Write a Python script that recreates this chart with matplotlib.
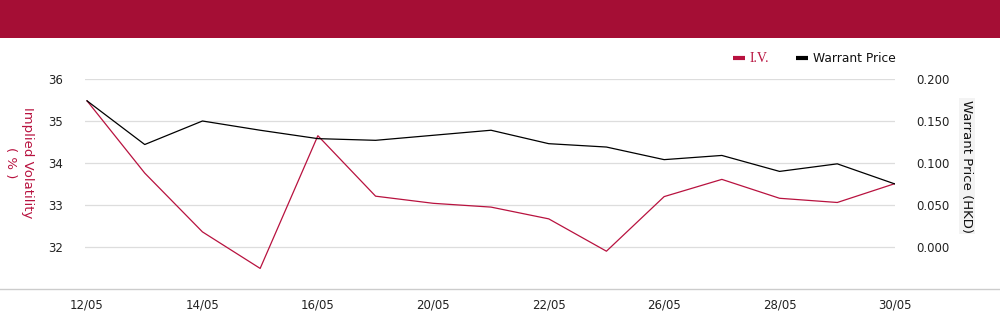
import matplotlib
matplotlib.use("Agg")
import matplotlib.pyplot as plt
from matplotlib.patches import Rectangle
from matplotlib.lines import Line2D

dates = ["12/05", "13/05", "14/05", "15/05", "16/05", "19/05", "20/05", "21/05",
         "22/05", "23/05", "26/05", "27/05", "28/05", "29/05", "30/05"]
iv = [35.48, 33.76, 32.36, 31.49, 34.65, 33.21, 33.04, 32.95, 32.67, 31.90,
      33.20, 33.61, 33.16, 33.06, 33.51]
price = [0.174, 0.122, 0.150, 0.139, 0.129, 0.127, 0.133, 0.139, 0.123, 0.119,
         0.104, 0.109, 0.090, 0.099, 0.075]
left_ticks = [32, 33, 34, 35, 36]
right_ticks = [0.0, 0.05, 0.10, 0.15, 0.20]

RED = "#A50E35"
LINE_RED = "#B8123F"
W, H = 1000, 324

fig = plt.figure(figsize=(10, 3.24), dpi=100)
fig.patches.append(Rectangle((0, 1 - 38 / H), 1, 38 / H, transform=fig.transFigure,
                             facecolor=RED, edgecolor="none", zorder=0))
fig.add_artist(Line2D([0, 1], [1 - 289 / H, 1 - 289 / H], transform=fig.transFigure,
                      color="#cccccc", lw=1))

ax = fig.add_axes([85 / W, 1 - 289 / H, (895 - 85) / W, (289 - 79) / H])
x = list(range(len(dates)))
ax.plot(x, iv, color=LINE_RED, lw=0.9, zorder=3)
ax.set_ylim(31, 36)
ax.set_yticks(left_ticks)
ax.set_yticklabels([str(t) for t in left_ticks])
ax.set_xlim(-0.035, len(dates) - 1)
ax.set_xticks(x[::2])
ax.set_xticklabels(dates[::2])
ax.grid(axis="y", color="#dddddd", lw=0.9)
ax.set_axisbelow(True)
for s in ax.spines.values():
    s.set_visible(False)
ax.tick_params(length=0, labelsize=8.5, colors="#222222")
ax.tick_params(axis="x", pad=7)
ax.tick_params(axis="y", pad=16)
ax.patch.set_alpha(0)

ax2 = ax.twinx()
ax2.plot(x, price, color="black", lw=0.9, zorder=3)
ax2.set_ylim(-0.05, 0.20)
ax2.set_yticks(right_ticks)
ax2.set_yticklabels([f"{t:.3f}" for t in right_ticks])
for s in ax2.spines.values():
    s.set_visible(False)
ax2.tick_params(length=0, labelsize=8.5, colors="#222222", pad=15)

fig.text(19 / W, 1 - 163 / H, "Implied Volatility\n( % )", rotation=270, color=LINE_RED,
         fontsize=9.5, ha="center", va="center", multialignment="center", linespacing=1.35)
fig.text(967 / W, 1 - 166 / H, "Warrant Price (HKD)", rotation=270, color="#111111",
         fontsize=9.5, ha="center", va="center",
         bbox=dict(facecolor="#f3f3f3", edgecolor="none", pad=1))

handles = [Line2D([], [], color=LINE_RED, lw=3, solid_capstyle="butt"),
           Line2D([], [], color="black", lw=3, solid_capstyle="butt")]
leg = fig.legend(handles, ["I.V.", "Warrant Price"], loc="center right",
                 bbox_to_anchor=(907 / W, 1 - 59 / H), ncol=2, frameon=False,
                 fontsize=8.8, handlelength=1.0, handletextpad=0.4, columnspacing=2.2)
t0, t1 = leg.get_texts()
t0.set_color(LINE_RED)
t0.set_fontfamily("Liberation Serif")
t0.set_fontsize(10)
t1.set_color("#111111")

fig.savefig("out.png", dpi=100)
